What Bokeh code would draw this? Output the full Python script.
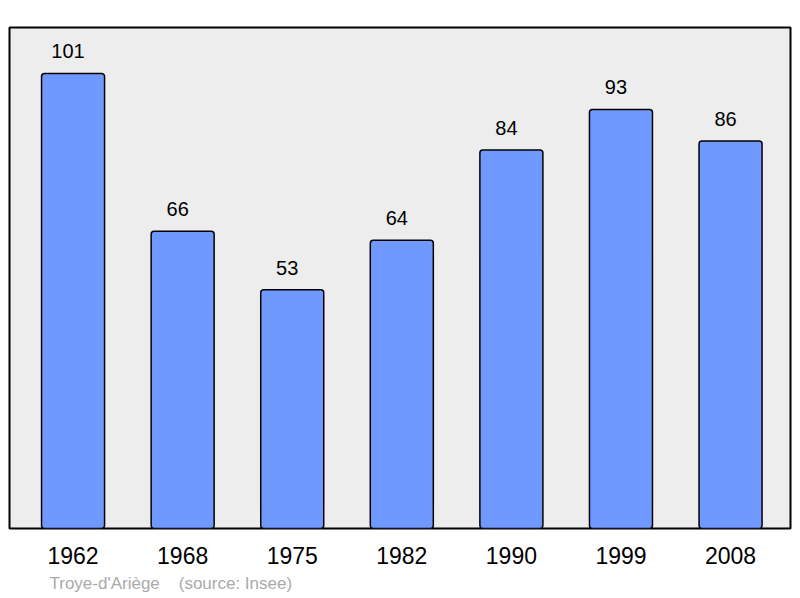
from bokeh.plotting import figure
from bokeh.models import Range1d, FixedTicker, Title, ColumnDataSource
from bokeh.core.properties import value
from bokeh.embed import file_html
from bokeh.resources import INLINE

years = ["1962", "1968", "1975", "1982", "1990", "1999", "2008"]
population = [101, 66, 53, 64, 84, 93, 86]
caption = "Troye-d'Ariège\u00a0\u00a0\u00a0\u00a0(source: Insee)"

xs = list(range(len(years)))
src = ColumnDataSource(dict(x=xs, top=population, label=[str(v) for v in population]))

p = figure(frame_width=781, frame_height=501, output_backend="svg", toolbar_location=None,
           x_range=Range1d(-0.58, 6.547), y_range=Range1d(0, 111.2),
           min_border_left=9, min_border_right=2, min_border_top=27, min_border_bottom=0)
p.background_fill_color = "#ededed"
p.border_fill_color = "white"
p.outline_line_color = "black"
p.outline_line_width = 2
p.grid.visible = False
p.yaxis.visible = False

p.vbar(x="x", top="top", bottom=0, width=0.575, source=src,
       fill_color="#7099ff", line_color="black", line_width=1.5, border_radius=3)
p.text(x="x", y="top", text="label", source=src, y_offset=-15, x_offset=-5,
       text_align="center", text_baseline="bottom", text_font_size="20px",
       text_font=value("Liberation Sans"), text_color="black")

ax = p.xaxis[0]
ax.ticker = FixedTicker(ticks=xs)
ax.major_label_overrides = {i: y for i, y in enumerate(years)}
ax.axis_line_color = None
ax.major_tick_line_color = None
ax.minor_tick_line_color = None
ax.major_tick_out = 0
ax.major_label_standoff = 18
ax.major_label_text_font_size = "23px"
ax.major_label_text_font = "Liberation Sans"
ax.major_label_text_color = "black"

t = Title(text=caption, align="left", offset=40, text_font_size="17px",
          text_font="Liberation Sans", text_font_style="normal", text_color="#aaaaaa",
          standoff=11)
p.add_layout(t, "below")

open("out.html", "w").write(file_html(p, INLINE))
